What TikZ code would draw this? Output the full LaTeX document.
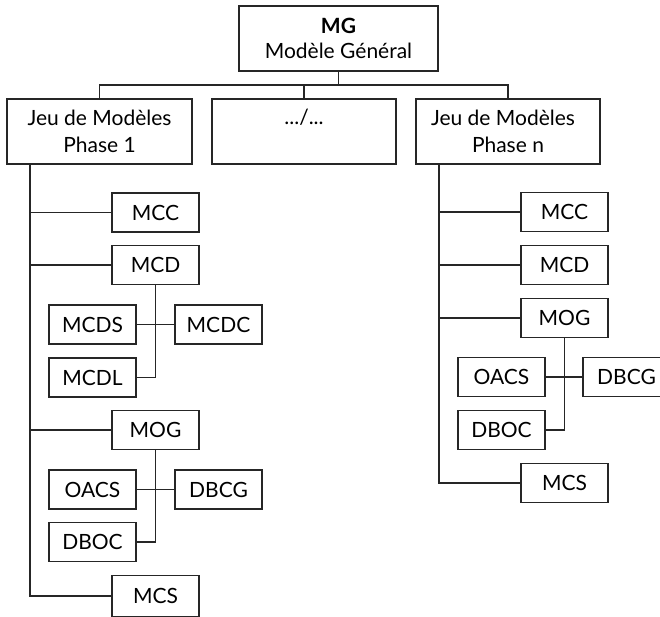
\documentclass[tikz,border=0pt]{standalone}
\usepackage{fontspec}
\setmainfont{Lato}
\begin{document}
\begin{tikzpicture}[x=1pt,y=-1pt,
  box/.style={draw=black!85, line width=1.2pt, rectangle, inner sep=0pt,
    minimum height=39pt, minimum width=87pt, font=\fontsize{21}{25}\selectfont},
  bigbox/.style={box, minimum height=65pt, align=center, font=\fontsize{21}{27}\selectfont},
  link/.style={draw=black!85, line width=1.2pt}]
\useasboundingbox (0,0) rectangle (660,616);
\clip (0,0) rectangle (660,616);

% top level
\node[bigbox, minimum width=199pt, font=\fontsize{21}{25}\selectfont] (mg) at (338.5,38.5) {\textbf{MG}\\Modèle Général};
\node[bigbox, minimum width=185pt] (p1) at (99.5,131.5) {Jeu de Modèles\\Phase 1};
\node[bigbox, minimum width=184pt] (mid) at (304,131.5) {};
\node[font=\fontsize{21}{25}\selectfont] (midtxt) at (304,117) {.../...};
\node[bigbox, minimum width=184pt] (pn) at (508,131.5) {Jeu de Modèles\hspace*{10pt}\\Phase n};

\coordinate (bus) at (0,85);
\draw[link] (mg.south) -- (mg.south |- bus);
\draw[link] (p1.north) -- (p1.north |- bus) -- (pn.north |- bus) -- (pn.north);
\draw[link] (mid.north) -- (mid.north |- bus);

% phase 1 branch
\coordinate (t1) at (30,0);
\node[box] (mcc1) at (155.5,212.5) {MCC};
\node[box] (mcd1) at (155.5,265) {MCD};
\node[box] (mcds) at (92.5,324.5) {MCDS};
\node[box] (mcdc) at (218.5,324.5) {MCDC};
\node[box] (mcdl) at (92.5,377.5) {MCDL};
\node[box] (mog1) at (155.5,430) {MOG};
\node[box] (oacs1) at (92.5,489.5) {OACS};
\node[box] (dbcg1) at (218.5,489.5) {DBCG};
\node[box] (dboc1) at (92.5,542) {DBOC};
\node[box, minimum height=41pt] (mcs1) at (155.5,596) {MCS};

\draw[link] (p1.south -| t1) -- (mcs1.west -| t1) -- (mcs1.west);
\foreach \n in {mcc1,mcd1,mog1}
  \draw[link] (\n.west -| t1) -- (\n.west);
\draw[link] (mcd1.south) -- (mcdl.east -| mcd1.south) -- (mcdl.east);
\draw[link] (mcds.east) -- (mcdc.west);
\draw[link] (mog1.south) -- (dboc1.east -| mog1.south) -- (dboc1.east);
\draw[link] (oacs1.east) -- (dbcg1.west);

% phase n branch
\coordinate (t2) at (439,0);
\node[box] (mcc2) at (564.5,212) {MCC};
\node[box] (mcd2) at (564.5,265) {MCD};
\node[box] (mog2) at (564.5,318) {MOG};
\node[box] (oacs2) at (501.5,377) {OACS};
\node[box] (dbcg2) at (626.5,377) {DBCG};
\node[box] (dboc2) at (501.5,430) {DBOC};
\node[box] (mcs2) at (564.5,483) {MCS};

\draw[link] (pn.south -| t2) -- (mcs2.west -| t2) -- (mcs2.west);
\foreach \n in {mcc2,mcd2,mog2}
  \draw[link] (\n.west -| t2) -- (\n.west);
\draw[link] (mog2.south) -- (dboc2.east -| mog2.south) -- (dboc2.east);
\draw[link] (oacs2.east) -- (dbcg2.west);
\end{tikzpicture}
\end{document}
